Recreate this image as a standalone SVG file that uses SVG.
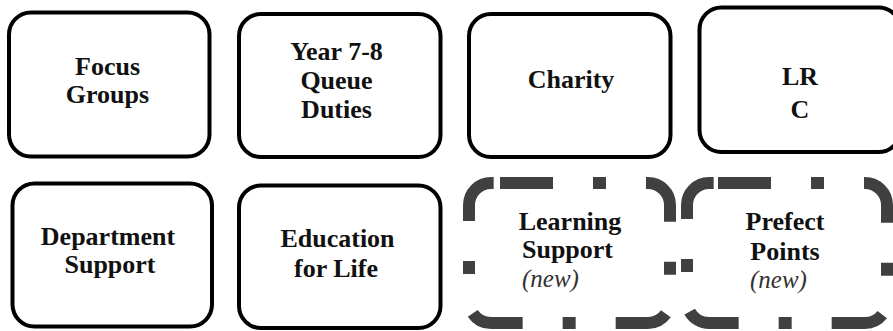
<svg xmlns="http://www.w3.org/2000/svg" width="893" height="331" viewBox="0 0 893 331">
<style>
.box{fill:#fff;stroke:#000;stroke-width:4}
.dbox{fill:none;stroke:#404040;stroke-width:12;stroke-dasharray:53 40 13 40}
.t{font-family:"Liberation Serif","Times New Roman",serif;font-weight:bold;font-size:26px;fill:#111;text-anchor:middle}
.n{font-family:"Liberation Serif","Times New Roman",serif;font-style:italic;font-size:25px;fill:#333}
</style>
<rect width="893" height="331" fill="#fff"/>
<g id="connectors"></g>
<g id="focus-groups">
<rect class="box" x="9" y="12.5" width="200.5" height="144" rx="22"/>
<text class="t" x="107.5" y="75">Focus</text>
<text class="t" x="107.5" y="103">Groups</text>
</g>
<g id="year-7-8">
<rect class="box" x="239" y="14" width="201.5" height="143" rx="22"/>
<text class="t" x="336.5" y="60">Year 7-8</text>
<text class="t" x="336.5" y="89">Queue</text>
<text class="t" x="336.5" y="118">Duties</text>
</g>
<g id="charity">
<rect class="box" x="469" y="14" width="201.5" height="143" rx="22"/>
<text class="t" x="571" y="88">Charity</text>
</g>
<g id="lrc">
<rect class="box" x="699.5" y="7.5" width="201" height="144.5" rx="22"/>
<text class="t" x="800" y="85">LR</text>
<text class="t" x="800" y="118">C</text>
</g>
<g id="department-support">
<rect class="box" x="12.5" y="183.5" width="199.5" height="143" rx="22"/>
<text class="t" x="108" y="245">Department</text>
<text class="t" x="110" y="273">Support</text>
</g>
<g id="education-for-life">
<rect class="box" x="239" y="185.5" width="201.5" height="142.5" rx="22"/>
<text class="t" x="337.5" y="247">Education</text>
<text class="t" x="336" y="277">for Life</text>
</g>
<g id="learning-support">
<path class="dbox" d="M500 183 H648 A22 22 0 0 1 670 205 V301 A22 22 0 0 1 648 323 H491 A22 22 0 0 1 469 301 V205 A22 22 0 0 1 491 183 Z"/>
<text class="t" x="570" y="230">Learning</text>
<text class="t" x="567.5" y="258">Support</text>
<text class="n" x="522" y="287">(new)</text>
</g>
<g id="prefect-points">
<path class="dbox" d="M718 183 H865 A22 22 0 0 1 887 205 V301 A22 22 0 0 1 865 323 H709 A22 22 0 0 1 687 301 V205 A22 22 0 0 1 709 183 Z"/>
<text class="t" x="785" y="230">Prefect</text>
<text class="t" x="785" y="260">Points</text>
<text class="n" x="750" y="288">(new)</text>
</g>
</svg>
